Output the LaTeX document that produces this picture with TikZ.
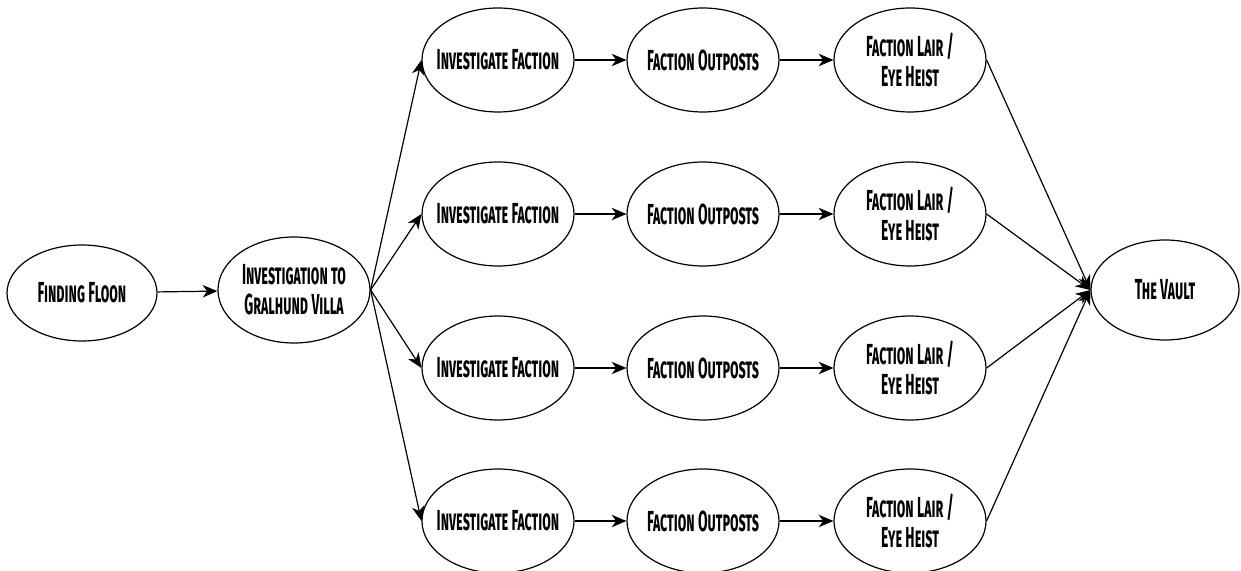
\documentclass[tikz,border=0pt]{standalone}
\usepackage{fontspec}
\setmainfont{Fira Sans}[FakeStretch=0.48]
\usetikzlibrary{arrows.meta, shapes.geometric}

\begin{document}
\begin{tikzpicture}[x=0.5pt, y=-0.5pt, font=\fontsize{14.5}{15}\selectfont\bfseries\scshape,
  >={Stealth[length=2.6mm, width=2.2mm, inset=0.8mm]},
  quest/.style={draw, ellipse, semithick, align=center, inner xsep=-9pt, inner ysep=0pt,
                minimum width=76pt, minimum height=52pt},
  lnk/.style={->, semithick}]
\useasboundingbox (0,0) rectangle (1241,571);
% start (left)
\node[quest, minimum width=75pt, minimum height=48pt] (floon) at (82,293) {Finding Floon};
\node[quest, minimum height=53pt] (villa) at (294,290) {Investigation to\\Gralhund Villa};
% faction rows
\node[quest] (inv1) at (498,60)  {Investigate Faction};
\node[quest] (inv2) at (498,214) {Investigate Faction};
\node[quest] (inv3) at (498,368) {Investigate Faction};
\node[quest] (inv4) at (498,521) {Investigate Faction};
\node[quest] (out1) at (703,60)  {Faction Outposts};
\node[quest] (out2) at (703,214) {Faction Outposts};
\node[quest] (out3) at (703,368) {Faction Outposts};
\node[quest] (out4) at (703,521) {Faction Outposts};
\node[quest] (lair1) at (910,60)  {Faction Lair /\\Eye Heist};
\node[quest] (lair2) at (910,214) {Faction Lair /\\Eye Heist};
\node[quest] (lair3) at (910,368) {Faction Lair /\\Eye Heist};
\node[quest] (lair4) at (910,521) {Faction Lair /\\Eye Heist};
% goal (right)
\node[quest, minimum width=74pt, minimum height=50pt] (vault) at (1165,290) {The Vault};
% edges
\draw[lnk] (floon)--(villa);
\draw[lnk] (villa.east)--(inv1.west); \draw[lnk] (villa.east)--(inv2.west);
\draw[lnk] (villa.east)--(inv3.west); \draw[lnk] (villa.east)--(inv4.west);
\draw[lnk] (inv1)--(out1); \draw[lnk] (out1)--(lair1);
\draw[lnk] (inv2)--(out2); \draw[lnk] (out2)--(lair2);
\draw[lnk] (inv3)--(out3); \draw[lnk] (out3)--(lair3);
\draw[lnk] (inv4)--(out4); \draw[lnk] (out4)--(lair4);
\draw[lnk] (lair1.east)--(vault.west); \draw[lnk] (lair2.east)--(vault.west);
\draw[lnk] (lair3.east)--(vault.west); \draw[lnk] (lair4.east)--(vault.west);
\end{tikzpicture}
\end{document}
